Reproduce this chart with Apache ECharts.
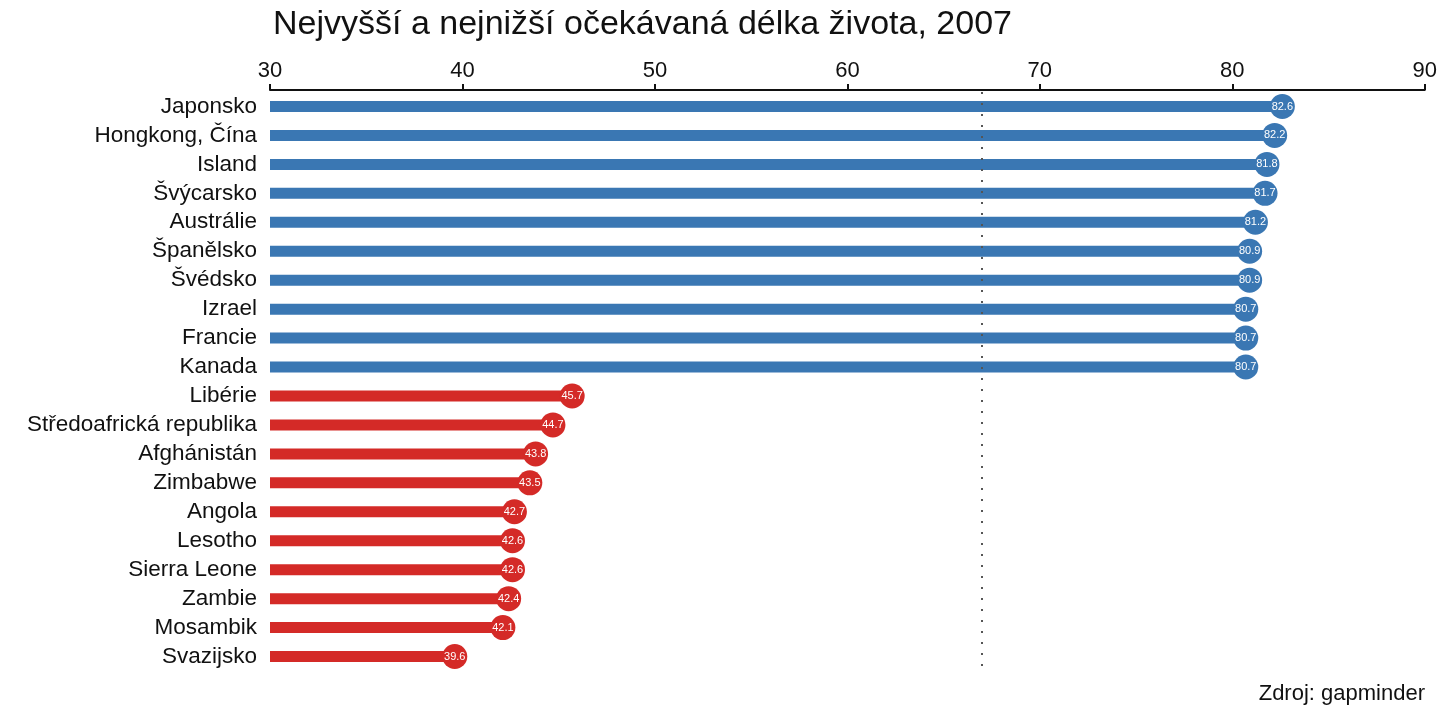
<!DOCTYPE html>
<html>
<head>
<meta charset="utf-8">
<script src="https://cdn.jsdelivr.net/npm/echarts@6/dist/echarts.min.js"></script>
<style>
  html, body { margin: 0; padding: 0; background: #fff; }
  #main { width: 1440px; height: 720px; }
</style>
</head>
<body>
<div id="main"></div>
<script>
// countries, highest first then lowest
var countries = [
  'Japonsko', 'Hongkong, Čína', 'Island', 'Švýcarsko', 'Austrálie',
  'Španělsko', 'Švédsko', 'Izrael', 'Francie', 'Kanada',
  'Libérie', 'Středoafrická republika', 'Afghánistán', 'Zimbabwe', 'Angola',
  'Lesotho', 'Sierra Leone', 'Zambie', 'Mosambik', 'Svazijsko'
];
var lifeExp = [
  82.6, 82.2, 81.8, 81.7, 81.2, 80.9, 80.9, 80.7, 80.7, 80.7,
  45.7, 44.7, 43.8, 43.5, 42.7, 42.6, 42.6, 42.4, 42.1, 39.6
];
var group = [
  'top', 'top', 'top', 'top', 'top', 'top', 'top', 'top', 'top', 'top',
  'low', 'low', 'low', 'low', 'low', 'low', 'low', 'low', 'low', 'low'
];
var worldMean = 67.0;
var xTicks = [30, 40, 50, 60, 70, 80, 90];

var colors = { top: '#3a77b3', low: '#d42a27' };
var font = 'Liberation Sans, Arial, sans-serif';

var chart = echarts.init(document.getElementById('main'));

var barData = lifeExp.map(function (v, i) {
  return { value: v, itemStyle: { color: colors[group[i]] } };
});
var dotData = lifeExp.map(function (v, i) {
  return {
    value: [v, countries[i]],
    itemStyle: { color: colors[group[i]] }
  };
});

chart.setOption({
  animation: false,
  title: {
    text: 'Nejvyšší a nejnižší očekávaná délka života, 2007',
    left: 268,
    top: 3,
    textStyle: { fontFamily: font, fontSize: 34, fontWeight: 'normal', color: '#111' }
  },
  graphic: [{
    type: 'text',
    right: 15,
    top: 683,
    style: { text: 'Zdroj: gapminder', font: '22px ' + font, fill: '#111' }
  }],
  grid: { left: 270, right: 15, top: 92, bottom: 49 },
  xAxis: {
    type: 'value',
    position: 'top',
    offset: 2,
    min: xTicks[0],
    max: xTicks[xTicks.length - 1],
    interval: 10,
    axisLine: { show: true, lineStyle: { color: '#111', width: 2 } },
    axisTick: { show: true, length: 6, lineStyle: { color: '#111', width: 2 } },
    axisLabel: { fontFamily: font, fontSize: 22, color: '#111', margin: 8 },
    splitLine: { show: false }
  },
  yAxis: {
    type: 'category',
    inverse: true,
    data: countries,
    axisLine: { show: false },
    axisTick: { show: false },
    axisLabel: { interval: 0, fontFamily: font, fontSize: 22.5, color: '#111', margin: 13 }
  },
  series: [
    {
      type: 'bar',
      data: barData,
      barWidth: 11,
      clip: true,
      markLine: {
        silent: true,
        symbol: 'none',
        label: { show: false },
        lineStyle: { color: '#555', width: 2, type: [2, 9] },
        data: [{ xAxis: worldMean }]
      }
    },
    {
      type: 'scatter',
      data: dotData,
      symbolSize: 25,
      z: 5,
      itemStyle: { opacity: 1 },
      label: {
        show: true,
        position: 'inside',
        formatter: function (p) { return p.value[0].toFixed(1); },
        fontFamily: font,
        fontSize: 11,
        color: '#fff'
      }
    }
  ]
});
</script>
</body>
</html>
